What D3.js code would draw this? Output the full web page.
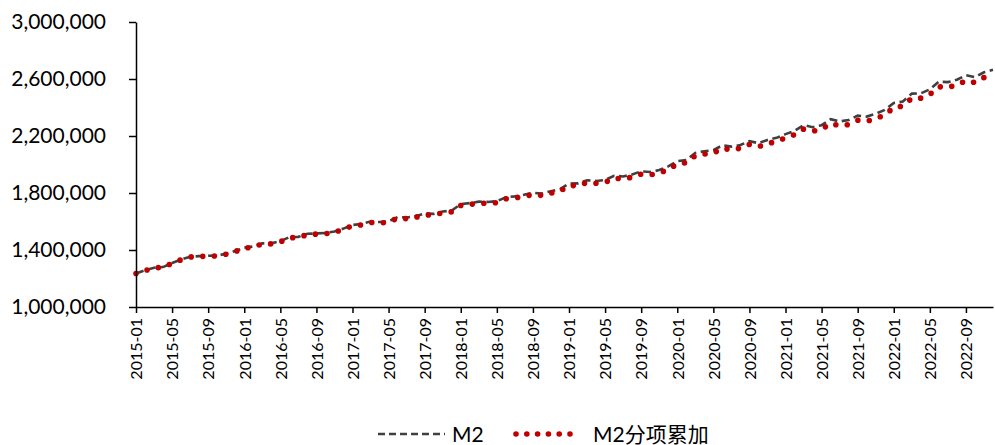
<!DOCTYPE html>
<html>
<head>
<meta charset="utf-8">
<script src="https://cdn.jsdelivr.net/npm/d3@7"></script>
<style>
  html, body { margin: 0; padding: 0; background: #fff; }
  svg { display: block; }
  text { font-family: Lato, "Open Sans", "Noto Sans CJK SC", sans-serif; fill: #000; }
</style>
</head>
<body>
<svg id="chart" width="995" height="445"></svg>
<script>
// Monthly series, 2015-01 .. 2022-12 (unit: 100 million yuan)
const years = [2015, 2016, 2017, 2018, 2019, 2020, 2021, 2022];
const months = ["01","02","03","04","05","06","07","08","09","10","11","12"];
const categories = years.flatMap(y => months.map(m => `${y}-${m}`));

const m2 = [
  1235800,1257400,1275300,1280100,1308700,1333400,1353200,1356900,1359800,1361000,1374000,1392300,
  1416300,1424600,1446200,1446700,1461500,1490500,1492300,1513600,1516400,1519500,1530400,1550100,
  1575900,1582900,1599600,1596300,1601400,1631300,1627600,1637400,1655600,1653400,1670000,1676800,
  1721800,1729100,1739300,1737400,1742800,1770200,1776200,1787700,1801700,1795600,1812900,1826700,
  1865900,1867400,1889400,1884700,1891500,1921400,1916300,1930000,1952100,1947000,1961000,1986500,
  2023100,2030800,2080900,2093500,2100200,2134900,2125500,2136800,2164100,2149700,2172100,2186800,
  2213000,2236000,2276400,2262100,2276000,2317800,2302200,2312300,2342800,2336200,2356000,2382900,
  2431000,2441500,2497700,2499500,2527000,2581500,2578100,2595100,2626600,2612900,2647100,2664300
];

const m2Sum = [
  1234800,1256200,1273900,1278500,1306900,1331400,1351000,1354500,1357200,1358200,1371000,1389100,
  1412900,1421000,1442400,1442700,1457300,1486100,1487700,1508800,1511400,1514300,1525000,1544500,
  1570000,1576700,1593100,1589500,1594300,1623900,1619900,1629400,1647300,1644800,1661100,1667600,
  1712300,1719300,1729200,1727000,1732000,1759000,1764600,1775700,1789200,1782600,1799300,1812500,
  1851300,1852300,1873800,1868500,1874700,1904000,1898300,1911400,1932800,1927000,1940300,1965000,
  2004600,2011800,2061400,2073300,2079400,2113300,2103200,2113800,2140500,2125400,2147100,2161100,
  2186500,2208900,2248600,2233600,2246800,2287900,2271600,2280900,2310600,2303200,2322000,2348000,
  2400000,2410000,2464500,2465500,2492000,2545500,2541600,2558000,2589000,2575000,2610000,2626500
];

const yTicks = [1000000, 1400000, 1800000, 2200000, 2600000, 3000000];
const xTickLabels = categories.filter((d, i) => i % 4 === 0);

const seriesNames = ["M2", "M2分项累加"];

const svg = d3.select("#chart");
const margin = { left: 136, right: 2, top: 22, bottom: 138 };
const W = 995, H = 445;

const x = d3.scalePoint()
  .domain(categories)
  .range([margin.left, W - margin.right])
  .padding(0);

const y = d3.scaleLinear()
  .domain([1000000, 3000000])
  .range([H - margin.bottom, margin.top]);

// Lines
const line = d3.line()
  .x((d, i) => x(categories[i]))
  .y(d => y(d));

svg.append("path")
  .datum(m2)
  .attr("d", line)
  .attr("fill", "none")
  .attr("stroke", "#404040")
  .attr("stroke-width", 2.6)
  .attr("stroke-dasharray", "8 4.5");

svg.append("path")
  .datum(m2Sum)
  .attr("d", line)
  .attr("fill", "none")
  .attr("stroke", "#C00000")
  .attr("stroke-width", 5.6)
  .attr("stroke-linecap", "round")
  .attr("stroke-dasharray", "0 11.6");

// Y axis
const yAxis = svg.append("g")
  .attr("transform", `translate(${margin.left},0)`)
  .call(d3.axisLeft(y).tickValues(yTicks).tickFormat(d3.format(",")).tickSize(7).tickSizeOuter(0).tickPadding(23));
yAxis.select(".domain").attr("stroke", "#000").attr("stroke-width", 1.5);
yAxis.selectAll(".tick line").attr("stroke", "#000").attr("stroke-width", 1.5);
yAxis.selectAll(".tick text")
  .style("font-size", "21px")
  .attr("fill", "#000");

// X axis
const xAxis = svg.append("g")
  .attr("transform", `translate(0,${H - margin.bottom})`)
  .call(d3.axisBottom(x).tickValues(xTickLabels).tickSize(6).tickSizeOuter(0).tickPadding(6));
xAxis.select(".domain").attr("stroke", "#000").attr("stroke-width", 1.5);
xAxis.selectAll(".tick line").attr("stroke", "#000").attr("stroke-width", 1.5);
xAxis.selectAll(".tick text")
  .style("font-size", "16px")
  .attr("fill", "#000")
  .attr("transform", "rotate(-90)")
  .attr("text-anchor", "end")
  .attr("x", -11)
  .attr("y", 0)
  .attr("dy", "0.36em");

// Legend
const legend = svg.append("g");
const ly = 434;
legend.append("line")
  .attr("x1", 378).attr("x2", 445).attr("y1", ly).attr("y2", ly)
  .attr("stroke", "#404040").attr("stroke-width", 2.6)
  .attr("stroke-dasharray", "7 4");
legend.append("text")
  .attr("x", 452).attr("y", ly).attr("dy", "0.36em")
  .style("font-size", "21px")
  .text(seriesNames[0]);
legend.append("line")
  .attr("x1", 516).attr("x2", 579).attr("y1", ly).attr("y2", ly)
  .attr("stroke", "#C00000").attr("stroke-width", 5.6)
  .attr("stroke-linecap", "round")
  .attr("stroke-dasharray", "0 10.8");
legend.append("text")
  .attr("x", 593).attr("y", ly).attr("dy", "0.36em")
  .style("font-size", "21px")
  .text(seriesNames[1]);
</script>
</body>
</html>
